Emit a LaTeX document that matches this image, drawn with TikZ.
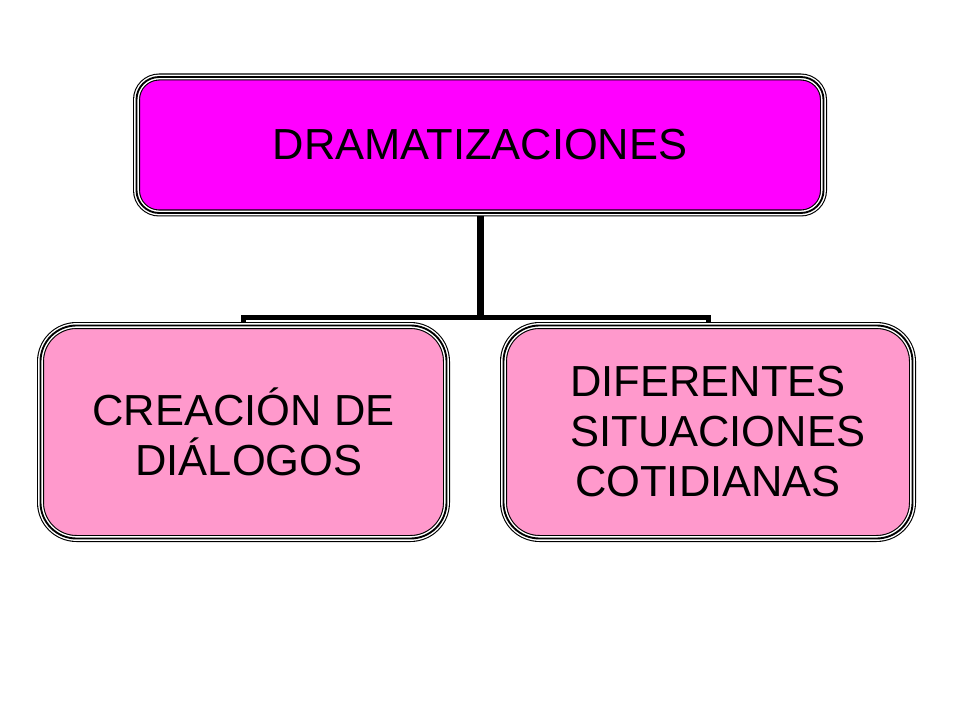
\documentclass[tikz,border=0pt]{standalone}
\usepackage{fontspec}
\setmainfont{Liberation Sans}
\definecolor{topfill}{HTML}{FF00FF}
\definecolor{subfill}{HTML}{FF99CC}
\begin{document}
\begin{tikzpicture}[x=0.75pt,y=-0.75pt,
  triple/.style={draw=black, line width=5.25pt,
    postaction={draw=white, line width=3.6pt},
    postaction={draw=black, line width=1.4pt}},
  topbox/.style={triple, fill=topfill, rounded corners=17pt,
    minimum width=515.25pt, minimum height=102pt, inner sep=0pt,
    align=center, font=\fontsize{32.6pt}{37.5pt}\selectfont},
  subbox/.style={triple, fill=subfill, rounded corners=27pt,
    minimum height=159.75pt, inner sep=0pt,
    align=center, font=\fontsize{32.6pt}{37.5pt}\selectfont},
  link/.style={draw=black, line join=miter}
]
\useasboundingbox (0,0) rectangle (960,720);
\node[topbox] (top) at (480,145) {DRAMATIZACIONES};
\node[subbox, minimum width=304.5pt] (left) at (243.5,432) {CREACIÓN DE\\\hspace*{0.25em}DIÁLOGOS};
\node[subbox, minimum width=306.75pt] (right) at (708,432) {DIFERENTES\\\hspace*{0.45em}SITUACIONES\\COTIDIANAS};
\coordinate (j) at (480,317);
\draw[link, line width=5.25pt] (top.south) -- (j);
\draw[link, line width=3.75pt] (left.north) -- (left.north |- j) -- (right.north |- j) -- (right.north);
\end{tikzpicture}
\end{document}
